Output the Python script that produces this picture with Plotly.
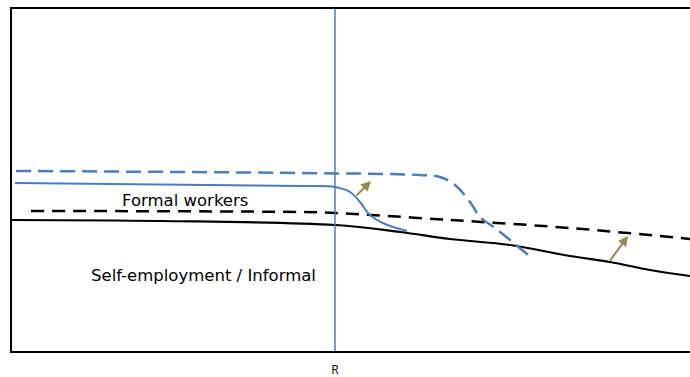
import plotly.graph_objects as go

# Curves (x, y in chart units)
black_solid_x = [0, 150, 325, 390, 440, 500, 560, 600, 640, 680]
black_solid_y = [132, 131, 127, 120, 113, 107, 96, 90, 82, 76]

black_dash_x = [21, 290, 325, 440, 560, 680]
black_dash_y = [141, 140, 139, 132, 124, 113]

blue_solid_x = [5, 290, 325, 340, 350, 360, 375, 397]
blue_solid_y = [169, 166, 165, 160, 150, 137, 128, 121]

blue_dash_x = [6, 290, 410, 430, 445, 460, 470, 485, 500, 518]
blue_dash_y = [181, 179, 177, 175, 167, 150, 135, 124, 112, 97]

R_value = 325
tick_labels = ["R"]

arrow_tail_x = [345, 599]
arrow_tail_y = [155, 90]
arrow_head_x = [361, 618]
arrow_head_y = [171, 116]

labels = ["Formal workers", "Self-employment / Informal"]
label_x = [175, 193]
label_y = [152, 77]

BLUE = "#4A7EBB"
OLIVE = "#938953"

fig = go.Figure()
fig.add_trace(go.Scatter(x=black_solid_x, y=black_solid_y, mode="lines",
                         line=dict(color="black", width=2.2, shape="spline"), hoverinfo="skip"))
fig.add_trace(go.Scatter(x=black_dash_x, y=black_dash_y, mode="lines",
                         line=dict(color="black", width=2.5, dash="13px,8px", shape="spline"), hoverinfo="skip"))
fig.add_trace(go.Scatter(x=blue_solid_x, y=blue_solid_y, mode="lines",
                         line=dict(color=BLUE, width=2, shape="spline"), hoverinfo="skip"))
fig.add_trace(go.Scatter(x=blue_dash_x, y=blue_dash_y, mode="lines",
                         line=dict(color=BLUE, width=2.5, dash="15px,7px", shape="spline"), hoverinfo="skip"))

fig.add_shape(type="line", x0=R_value, x1=R_value, y0=0, y1=1, yref="paper", xref="x",
              line=dict(color=BLUE, width=1.5))

for tx, ty, hx, hy in zip(arrow_tail_x, arrow_tail_y, arrow_head_x, arrow_head_y):
    fig.add_annotation(x=hx, y=hy, ax=tx, ay=ty, xref="x", yref="y", axref="x", ayref="y",
                       showarrow=True, arrowhead=2, arrowsize=1, arrowwidth=2, arrowcolor=OLIVE, text="")

for t, lx, ly in zip(labels, label_x, label_y):
    fig.add_annotation(x=lx, y=ly, xref="x", yref="y", text=t, showarrow=False,
                       font=dict(family="DejaVu Sans", size=16.5, color="black"))

fig.update_layout(
    width=690, height=377,
    margin=dict(l=12, r=0, t=9, b=26),
    plot_bgcolor="white", paper_bgcolor="white",
    showlegend=False,
    xaxis=dict(range=[2, 680], showgrid=False, zeroline=False,
               showline=True, linecolor="black", linewidth=2, mirror=True,
               tickvals=[R_value], ticktext=tick_labels, ticks="",
               ticklabelstandoff=7,
               tickfont=dict(family="Open Sans", size=12, color="black")),
    yaxis=dict(range=[1, 343], showgrid=False, zeroline=False,
               showline=True, linecolor="black", linewidth=2,
               showticklabels=False, ticks=""),
)

fig.write_html("out.html",
               config={"displayModeBar": False},
               post_script="document.body.style.margin='0';document.body.style.overflow='hidden';")
